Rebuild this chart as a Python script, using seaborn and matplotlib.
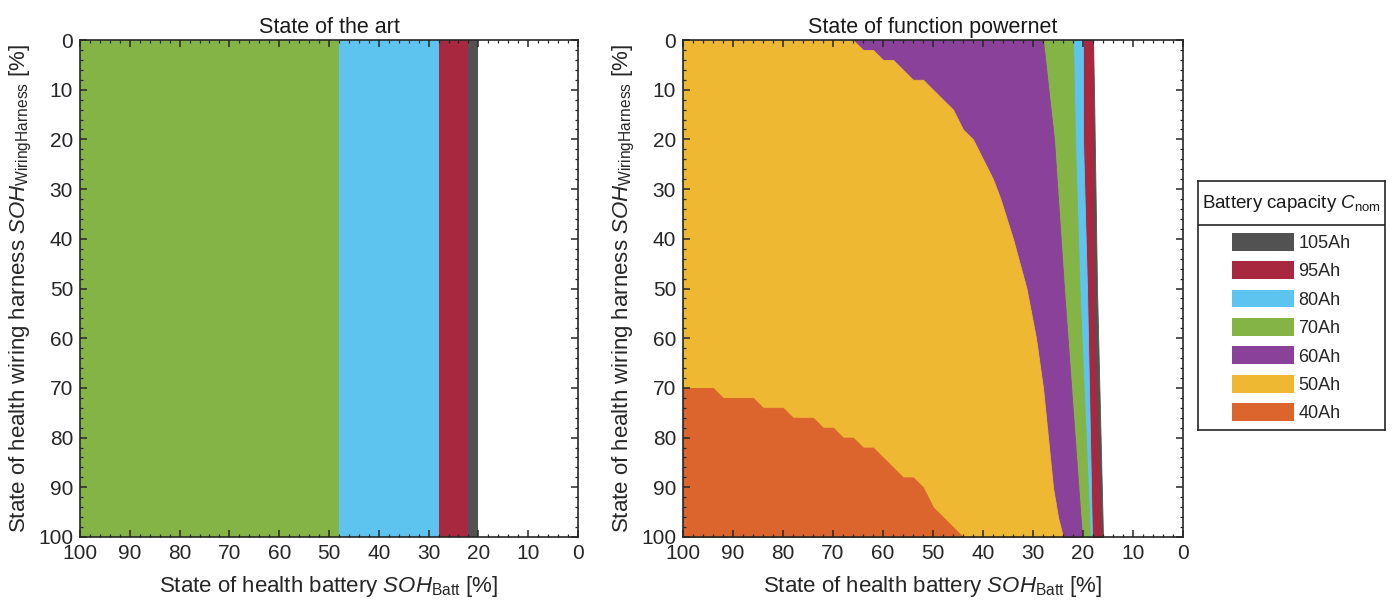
import matplotlib

matplotlib.use("Agg")

import matplotlib.pyplot as plt
import numpy as np
import seaborn as sns
from matplotlib.patches import Patch
from matplotlib.ticker import MultipleLocator

# legend order and colours
capacity_labels = ["105Ah", "95Ah", "80Ah", "70Ah", "60Ah", "50Ah", "40Ah"]
capacity_colors = ["#525252", "#A8283F", "#5CC4EF", "#85B446", "#89419A", "#EEB833", "#DC642D"]

# state of the art: fixed bands of battery SOH (independent of wiring SOH)
art_labels = ["70Ah", "80Ah", "95Ah", "105Ah"]
art_upper = [100, 48, 28, 22]
art_lower = [48, 28, 22, 20]

# state of function powernet: right-hand edge (battery SOH) of each region vs wiring SOH
edge_105_wiring = [0, 10, 50, 100]
edge_105_batt = [18, 17.8, 17.2, 16.0]
edge_95_wiring = [0, 30, 60, 100]
edge_95_batt = [18, 18, 17.7, 16.4]
edge_80_wiring = [0, 20, 50, 100]
edge_80_batt = [20, 20, 19.2, 18.2]
edge_70_wiring = [0, 20, 50, 100]
edge_70_batt = [22, 21.6, 20.7, 18.6]
edge_60_wiring = [0, 11, 20, 50, 100]
edge_60_batt = [28, 26.8, 25.8, 23.8, 20.2]
edge_50_wiring = [0, 2, 2, 4, 4, 8, 8, 14, 18, 20, 24, 28, 32, 40, 50, 60, 70, 80, 90, 96, 100]
edge_50_batt = [66, 64, 62, 60, 58, 54, 52, 46, 44, 42, 40, 38, 36.5, 34, 31.3, 29.4, 28, 27, 26, 25, 24]

# 40Ah region: upper edge (wiring SOH) vs battery SOH
edge_40_batt = [100, 94, 92, 86, 84, 80, 78, 74, 72, 70, 68, 66, 64, 62, 56, 54, 52, 50, 44]
edge_40_wiring = [70, 70, 72, 72, 74, 74, 76, 76, 78, 78, 80, 80, 82, 82, 88, 88, 90, 94, 100]

sns.set_style("ticks")
plt.rcParams["font.family"] = ["Liberation Sans", "DejaVu Sans"]
plt.rcParams["mathtext.fontset"] = "custom"
plt.rcParams["mathtext.rm"] = "Liberation Sans"
plt.rcParams["mathtext.it"] = "Liberation Sans:italic"

palette = dict(zip(capacity_labels, sns.color_palette(capacity_colors)))

W, H = 1392, 603
fig = plt.figure(figsize=(W / 100, H / 100), dpi=100)


def px_axes(x0, y0, x1, y1):
    return fig.add_axes([x0 / W, 1 - y1 / H, (x1 - x0) / W, (y1 - y0) / H])


def style_axis(axis, title):
    axis.set_xlim(100, 0)
    axis.set_ylim(100, 0)
    axis.xaxis.set_major_locator(MultipleLocator(10))
    axis.yaxis.set_major_locator(MultipleLocator(10))
    axis.xaxis.set_minor_locator(MultipleLocator(2))
    axis.yaxis.set_minor_locator(MultipleLocator(2))
    axis.tick_params(which="both", direction="in", top=True, right=True,
                     color="#262626", labelsize=15, labelcolor="#262626")
    axis.tick_params(which="major", length=5, width=1.1, pad=5)
    axis.tick_params(which="minor", length=2.5, width=0.9)
    for spine in axis.spines.values():
        spine.set_color("#262626")
        spine.set_linewidth(1.2)
    axis.set_title(title, fontsize=15.5, color="#1a1a1a", pad=5)
    axis.set_xlabel(r"State of health battery $\mathit{SOH}_{\mathrm{Batt}}$ [%]",
                    fontsize=16, color="#262626", labelpad=8)
    axis.set_ylabel(r"State of health wiring harness $\mathit{SOH}_{\mathrm{WiringHarness}}$ [%]",
                    fontsize=16, color="#262626", labelpad=3)
    axis.set_axisbelow(False)


# left panel
ax_art = px_axes(80, 40, 578, 537)
for label, hi, lo in zip(art_labels, art_upper, art_lower):
    ax_art.fill_betweenx([0, 100], lo, hi, color=palette[label], linewidth=0)
style_axis(ax_art, "State of the art")

# right panel
ax_pn = px_axes(683, 40, 1183, 537)
layers = [
    ("105Ah", edge_105_wiring, edge_105_batt),
    ("95Ah", edge_95_wiring, edge_95_batt),
    ("80Ah", edge_80_wiring, edge_80_batt),
    ("70Ah", edge_70_wiring, edge_70_batt),
    ("60Ah", edge_60_wiring, edge_60_batt),
    ("50Ah", edge_50_wiring, edge_50_batt),
]
for label, wiring, batt in layers:
    ax_pn.fill_betweenx(wiring, batt, 100, color=palette[label], linewidth=0.6,
                        edgecolor=palette[label])
ax_pn.fill_between(edge_40_batt, edge_40_wiring, 100, color=palette["40Ah"],
                   linewidth=0.6, edgecolor=palette["40Ah"])
style_axis(ax_pn, "State of function powernet")

# legend box with a separate title cell
ax_leg = px_axes(1198, 181, 1385, 430)
ax_leg.set_xticks([])
ax_leg.set_yticks([])
for spine in ax_leg.spines.values():
    spine.set_color("#262626")
    spine.set_linewidth(1.2)
ax_leg.axhline((430 - 225) / 249, color="#262626", linewidth=1.2)
ax_leg.text(0.5, (430 - 203) / 249, r"Battery capacity $\mathit{C}_{\mathrm{nom}}$",
            ha="center", va="center", fontsize=13.5, color="#1a1a1a",
            transform=ax_leg.transAxes)
handles = [Patch(facecolor=palette[c], edgecolor="none", label=c) for c in capacity_labels]
ax_leg.legend(handles=handles, loc="upper center", bbox_to_anchor=(0.5, (430 - 229) / 249),
              frameon=False, fontsize=13, handlelength=3.4, handleheight=1.15,
              labelspacing=0.52, handletextpad=0.25, borderpad=0.2, borderaxespad=0)

fig.savefig("out.png", dpi=100)
